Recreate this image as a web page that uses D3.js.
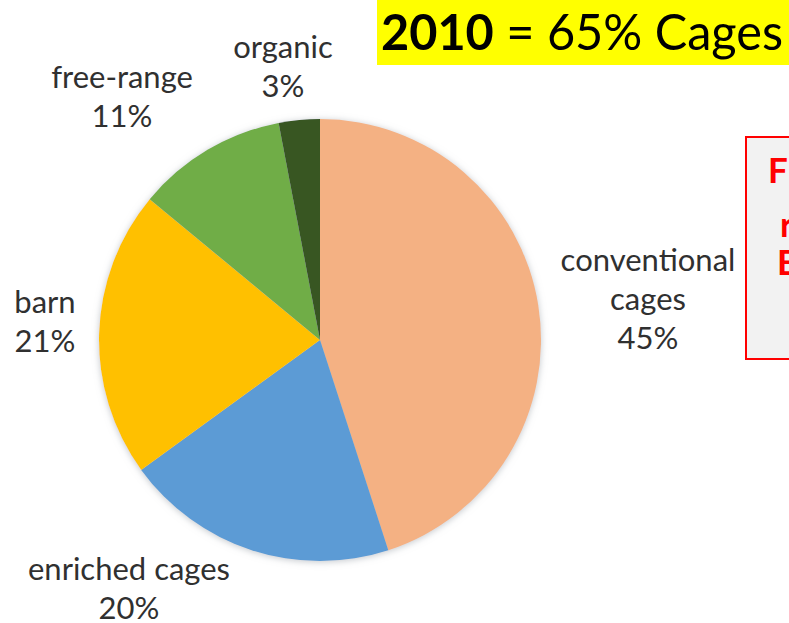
<!DOCTYPE html>
<html>
<head>
<meta charset="utf-8">
<script src="https://cdn.jsdelivr.net/npm/d3@7"></script>
<style>
  html, body { margin: 0; padding: 0; background: #fff; }
  svg { display: block; }
</style>
</head>
<body>
<svg id="chart" width="789" height="623"></svg>
<script>
// Laying-hen housing systems, share of hens
const categories = ["conventional cages", "enriched cages", "barn", "free-range", "organic"];
const shares = [45, 20, 21, 11, 3];
const labelLines = [["conventional", "cages", "45%"], ["enriched cages", "20%"], ["barn", "21%"], ["free-range", "11%"], ["organic", "3%"]];
const colors = ["#F4B183", "#5B9BD5", "#FFC000", "#70AD47", "#375623"];

const svg = d3.select("#chart");
const font = "Lato, 'Open Sans', sans-serif";

// soft shadow around the pie
const defs = svg.append("defs");
const f = defs.append("filter").attr("id", "shadow")
  .attr("x", "-10%").attr("y", "-10%").attr("width", "120%").attr("height", "120%");
f.append("feDropShadow").attr("dx", 0).attr("dy", 1).attr("stdDeviation", 3.5)
  .attr("flood-color", "#9aa0a8").attr("flood-opacity", 0.6);

const cx = 320, cy = 340, r = 221;
const data = categories.map((c, i) => ({ name: c, value: shares[i], lines: labelLines[i], color: colors[i] }));

const pie = d3.pie().value(d => d.value).sort(null);
const arc = d3.arc().innerRadius(0).outerRadius(r);

const g = svg.append("g").attr("transform", `translate(${cx},${cy})`).attr("filter", "url(#shadow)");
g.selectAll("path").data(pie(data)).join("path")
  .attr("d", arc)
  .attr("fill", d => d.data.color);

// label anchor points (center of first baseline) and line spacing
const labelPos = {
  "conventional cages": [648, 271],
  "enriched cages": [129, 580],
  "barn": [45, 313],
  "free-range": [122, 88],
  "organic": [283, 58]
};
const lineH = 39;
data.forEach(d => {
  const [x, y] = labelPos[d.name];
  const t = svg.append("text")
    .attr("x", x).attr("y", y)
    .attr("text-anchor", "middle")
    .attr("font-family", font)
    .attr("font-size", 31)
    .attr("fill", "#303030");
  d.lines.forEach((ln, i) => {
    t.append("tspan").attr("x", x).attr("y", y + i * lineH).text(ln);
  });
});

// yellow headline
svg.append("rect").attr("x", 377).attr("y", 0).attr("width", 412).attr("height", 65).attr("fill", "#FFFF00");
const head = svg.append("text").attr("x", 381).attr("y", 50)
  .attr("font-family", font).attr("font-size", 50).attr("fill", "#000")
  .attr("textLength", 402).attr("lengthAdjust", "spacingAndGlyphs");
head.append("tspan").attr("font-weight", "bold").text("2010");
head.append("tspan").text(" = 65% Cages");

// red-framed note at the right
svg.append("rect").attr("x", 746).attr("y", 137).attr("width", 60).attr("height", 222)
  .attr("fill", "#F2F2F2").attr("stroke", "#FF0000").attr("stroke-width", 2);
const noteLines = [["F", 768, 183], ["r", 780, 237], ["E", 777, 275]];
noteLines.forEach(([s, x, y]) => {
  svg.append("text").attr("x", x).attr("y", y)
    .attr("font-family", font).attr("font-weight", "bold").attr("font-size", 35)
    .attr("fill", "#FF0000").text(s);
});
</script>
</body>
</html>
